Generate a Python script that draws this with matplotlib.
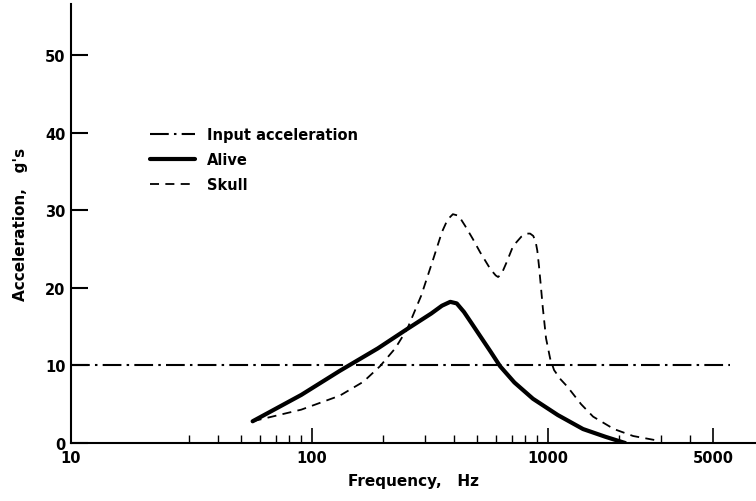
import matplotlib
matplotlib.use("Agg")
import matplotlib.pyplot as plt
import numpy as np

# ---- data ----
input_freq = [9.52, 5900]
input_acc = [10, 10]

alive_freq = [56, 90, 131, 190, 253, 320, 355, 385, 410, 440, 475, 515, 570, 626, 720, 863, 1100, 1406, 1750, 2120]
alive_acc = [2.8, 6.2, 9.3, 12.2, 14.7, 16.7, 17.7, 18.2, 18.0, 16.9, 15.4, 13.8, 11.8, 9.9, 7.8, 5.7, 3.6, 1.8, 0.8, 0.0]

skull_freq = [56, 90, 131, 165, 194, 225, 253, 290, 326, 355, 375, 395, 418, 445, 480, 515, 570, 600, 614, 635, 665,
              711, 770, 810, 839, 865, 885, 900, 915, 930, 950, 980, 1020, 1060, 1130, 1204, 1380, 1551, 1900, 2293, 2925]
skull_acc = [2.8, 4.3, 6.1, 7.9, 9.9, 12.2, 14.7, 19.0, 23.7, 27.2, 28.8, 29.5, 29.3, 28.0, 26.3, 24.6, 22.4, 21.6, 21.4, 21.8, 23.2,
             25.4, 26.6, 27.0, 27.0, 26.7, 26.0, 24.8, 22.8, 20.5, 17.4, 13.5, 10.9, 9.4, 8.2, 7.3, 5.0, 3.4, 1.8, 0.9, 0.3]

x_major = [9.52, 100, 1000, 5000]
x_major_labels = ["10", "100", "1000", "5000"]
x_minor = [30, 40, 50, 60, 70, 80, 90, 200, 300, 400, 500, 600, 700, 800, 900, 2000, 3000, 4000]
y_ticks = [0, 10, 20, 30, 40, 50]

W, H = 756, 502
fig = plt.figure(figsize=(W / 100, H / 100), dpi=100)
ax = fig.add_axes([71 / W, (H - 444) / H, (W - 71) / W, (444 - 5) / H])

font = dict(family="DejaVu Sans", fontweight="bold")

ax.plot(input_freq, input_acc, color="black", lw=1.5, linestyle=(0, (9, 2.5, 1.2, 2.5)),
        label="Input acceleration", solid_capstyle="butt")
ax.plot(alive_freq, alive_acc, color="black", lw=3.0, label="Alive",
        solid_joinstyle="round", solid_capstyle="round")
ax.plot(skull_freq, skull_acc, color="black", lw=1.3, linestyle=(0, (5, 3.5)), label="Skull")

ax.set_xscale("log")
ax.set_xlim(9.52, 7600)
ax.set_ylim(0, 56.6)

ax.set_xticks(x_major)
ax.set_xticklabels(x_major_labels)
ax.set_xticks(x_minor, minor=True)
ax.xaxis.set_minor_formatter(matplotlib.ticker.NullFormatter())
ax.set_yticks(y_ticks)

for s in ["top", "right"]:
    ax.spines[s].set_visible(False)
for s in ["left", "bottom"]:
    ax.spines[s].set_linewidth(1.5)

ax.tick_params(axis="x", which="major", direction="in", length=11, width=1.2, pad=5, labelsize=10.5)
ax.tick_params(axis="x", which="minor", direction="in", length=6, width=1.0)
ax.tick_params(axis="y", which="major", direction="in", length=12, width=1.5, pad=4, labelsize=10.5)
for lab in ax.get_xticklabels() + ax.get_yticklabels():
    lab.set_fontweight("bold")

ax.set_xlabel("Frequency,   Hz", fontsize=11, labelpad=6, **font)
ax.set_ylabel("Acceleration,   g's", fontsize=11, labelpad=12, **font)

leg = ax.legend(loc="upper left", bbox_to_anchor=(150 / W, 1 - 128 / H), bbox_transform=fig.transFigure,
                frameon=False, handlelength=3.1, handletextpad=0.8, labelspacing=0.7,
                borderpad=0, borderaxespad=0, prop=dict(family="DejaVu Sans", weight="bold", size=10.5))

fig.savefig("out.png", dpi=100)
